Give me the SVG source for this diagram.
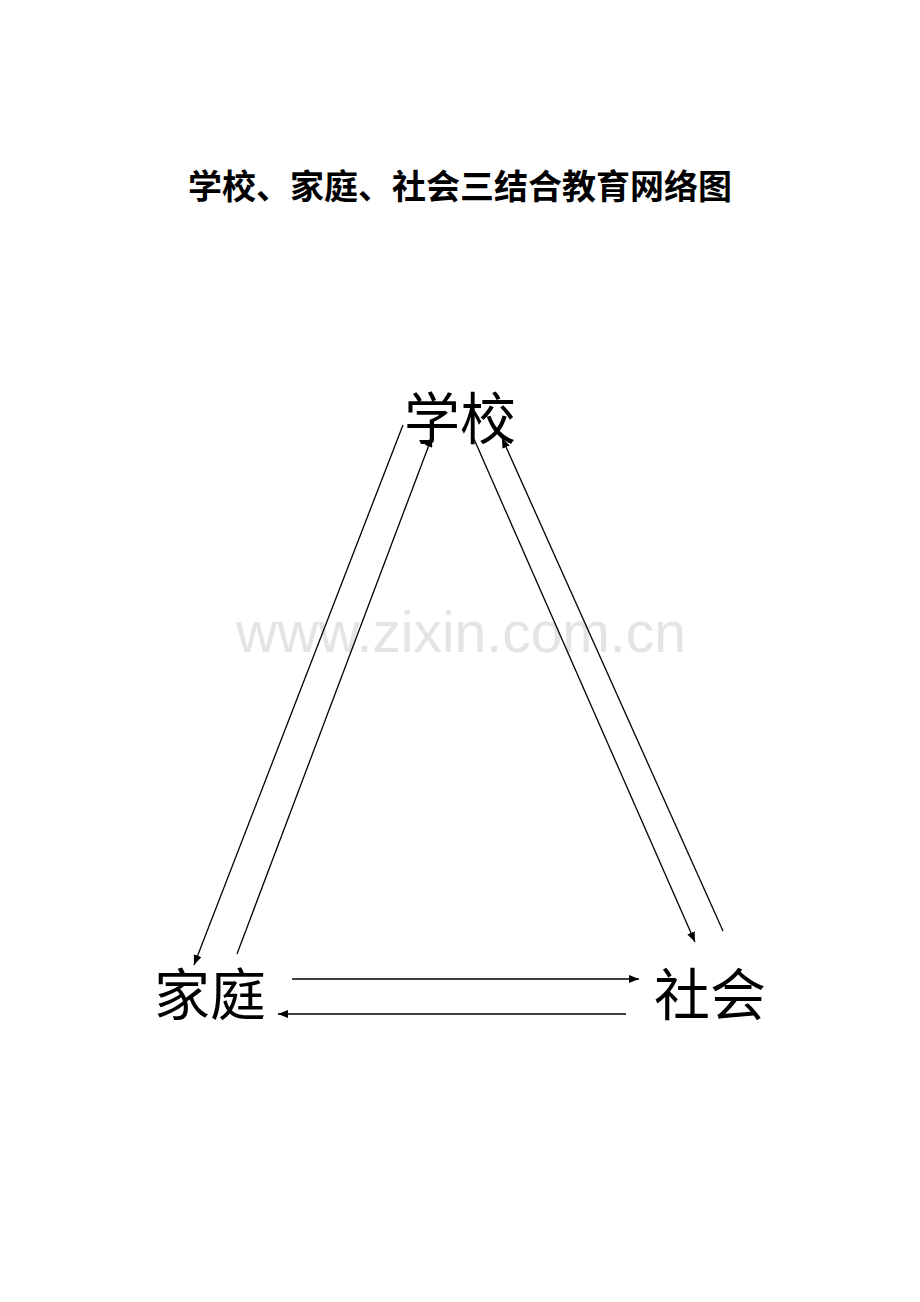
<svg xmlns="http://www.w3.org/2000/svg" width="920" height="1302" viewBox="0 0 920 1302">
<style>
.cjk{font-family:"Noto Sans CJK SC","Noto Sans",sans-serif;fill:#000;text-anchor:middle}
.title{font-size:34px;font-weight:bold}
.node{font-size:56px}
.wm{font-family:"Liberation Sans",Arial,sans-serif;font-size:57px;fill:#e4e4e4;text-anchor:middle}
.conn line{stroke:#000;stroke-width:1.3;fill:none;marker-end:url(#arr)}
</style>
<defs>
<marker id="arr" viewBox="0 0 10 8" refX="10" refY="4" markerWidth="10" markerHeight="8" markerUnits="userSpaceOnUse" orient="auto">
<path d="M0,0 L10,4 L0,8 Z" fill="#000"/>
</marker>
</defs>
<rect width="920" height="1302" fill="#fff"/>
<text class="wm" x="461" y="652">www.zixin.com.cn</text>
<text class="cjk title" x="460" y="199">学校、家庭、社会三结合教育网络图</text>
<g id="node-school"><text class="cjk node" x="460" y="439">学校</text></g>
<g id="node-family"><text class="cjk node" x="210" y="1015">家庭</text></g>
<g id="node-society"><text class="cjk node" x="710" y="1015">社会</text></g>
<g id="connectors" class="conn">
<line x1="403" y1="425" x2="194" y2="965"/>
<line x1="237" y1="954" x2="432" y2="437"/>
<line x1="474" y1="439" x2="695" y2="942"/>
<line x1="723" y1="931" x2="502" y2="438"/>
<line x1="292" y1="979" x2="639" y2="979"/>
<line x1="626" y1="1014" x2="278" y2="1014"/>
</g>
</svg>
